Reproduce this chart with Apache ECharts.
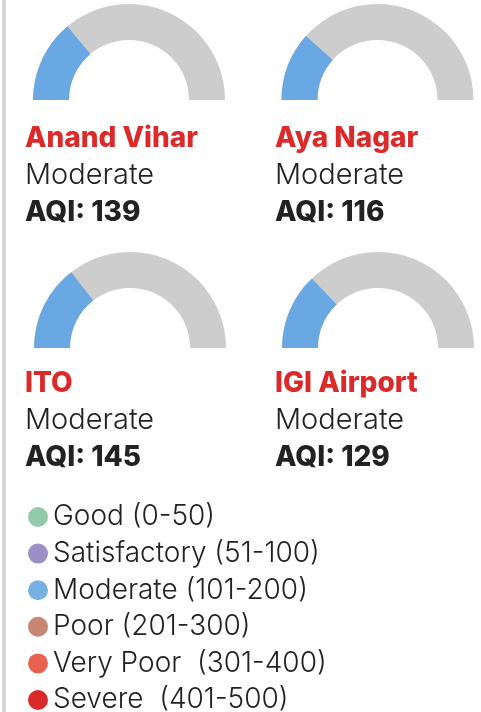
<!DOCTYPE html>
<html>
<head>
<meta charset="utf-8">
<script src="https://cdn.jsdelivr.net/npm/echarts@6/dist/echarts.min.js"></script>
<style>
    html, body { margin: 0; padding: 0; background: #fff; }
    #chart { width: 481px; height: 712px; }
</style>
</head>
<body>
<div id="chart"></div>
<script>
// station readings
var stations = ['Anand Vihar', 'Aya Nagar', 'ITO', 'IGI Airport'];
var categories = ['Moderate', 'Moderate', 'Moderate', 'Moderate'];
var aqiValues = [139, 116, 145, 129];

// AQI bands for the key
var bandNames = ['Good (0-50)', 'Satisfactory (51-100)', 'Moderate (101-200)', 'Poor (201-300)', 'Very Poor  (301-400)', 'Severe  (401-500)'];
var bandColors = ['#93cbaa', '#9c8fc6', '#78b0e4', '#c98574', '#e7624f', '#d92a29'];
var aqiMin = 0;
var aqiMax = 500;

// layout of the 2x2 grid
var centers = [[129, 100], [377.5, 100], [130, 348], [378, 348]];
var textPos = [[25, 120], [275, 120], [25, 365], [275, 365]];

var chart = echarts.init(document.getElementById('chart'));

var series = [];
var titles = [];
for (var i = 0; i < stations.length; i++) {
    series.push({
        type: 'gauge',
        center: centers[i],
        radius: 96,
        startAngle: 180,
        endAngle: 0,
        min: aqiMin,
        max: aqiMax,
        silent: true,
        axisLine: { lineStyle: { width: 36, color: [[1, '#cdcdcd']] } },
        progress: { show: true, width: 36, itemStyle: { color: '#6aa8e3' } },
        pointer: { show: false },
        anchor: { show: false },
        axisTick: { show: false },
        splitLine: { show: false },
        axisLabel: { show: false },
        title: { show: false },
        detail: { show: false },
        data: [{ value: aqiValues[i], name: stations[i] }]
    });
    titles.push({
        left: textPos[i][0],
        top: textPos[i][1],
        padding: 0,
        text: '{n|' + stations[i] + '}\n{c|' + categories[i] + '}\n{q|AQI: ' + aqiValues[i] + '}',
        textStyle: {
            rich: {
                n: { fontFamily: 'Inter', fontWeight: 800, fontSize: 28, lineHeight: 37, color: '#dc2a2b' },
                c: { fontFamily: 'Inter', fontWeight: 300, fontSize: 29, lineHeight: 37, color: '#222' },
                q: { fontFamily: 'Inter', fontWeight: 800, fontSize: 28, lineHeight: 37, color: '#222' }
            }
        }
    });
}

// invisible pie only feeds the key
series.push({
    type: 'pie',
    radius: [0, 0],
    center: [-100, -100],
    silent: true,
    stillShowZeroSum: false,
    showEmptyCircle: false,
    label: { show: false },
    labelLine: { show: false },
    data: bandNames.map(function (n, k) {
        return { name: n, value: 0, itemStyle: { color: bandColors[k] } };
    })
});

chart.setOption({
    animation: false,
    title: titles,
    legend: {
        orient: 'vertical',
        left: 28,
        top: 503,
        height: 260,
        padding: 0,
        itemGap: 8.6,
        itemWidth: 20,
        itemHeight: 20,
        icon: 'circle',
        selectedMode: false,
        data: bandNames,
        textStyle: { fontFamily: 'Inter', fontWeight: 300, fontSize: 28, lineHeight: 27, color: '#222' }
    },
    graphic: [{
        type: 'rect',
        shape: { x: 2, y: 0, width: 4, height: 712 },
        style: { fill: '#d6d6d6' },
        silent: true
    }],
    series: series
});
</script>
</body>
</html>
